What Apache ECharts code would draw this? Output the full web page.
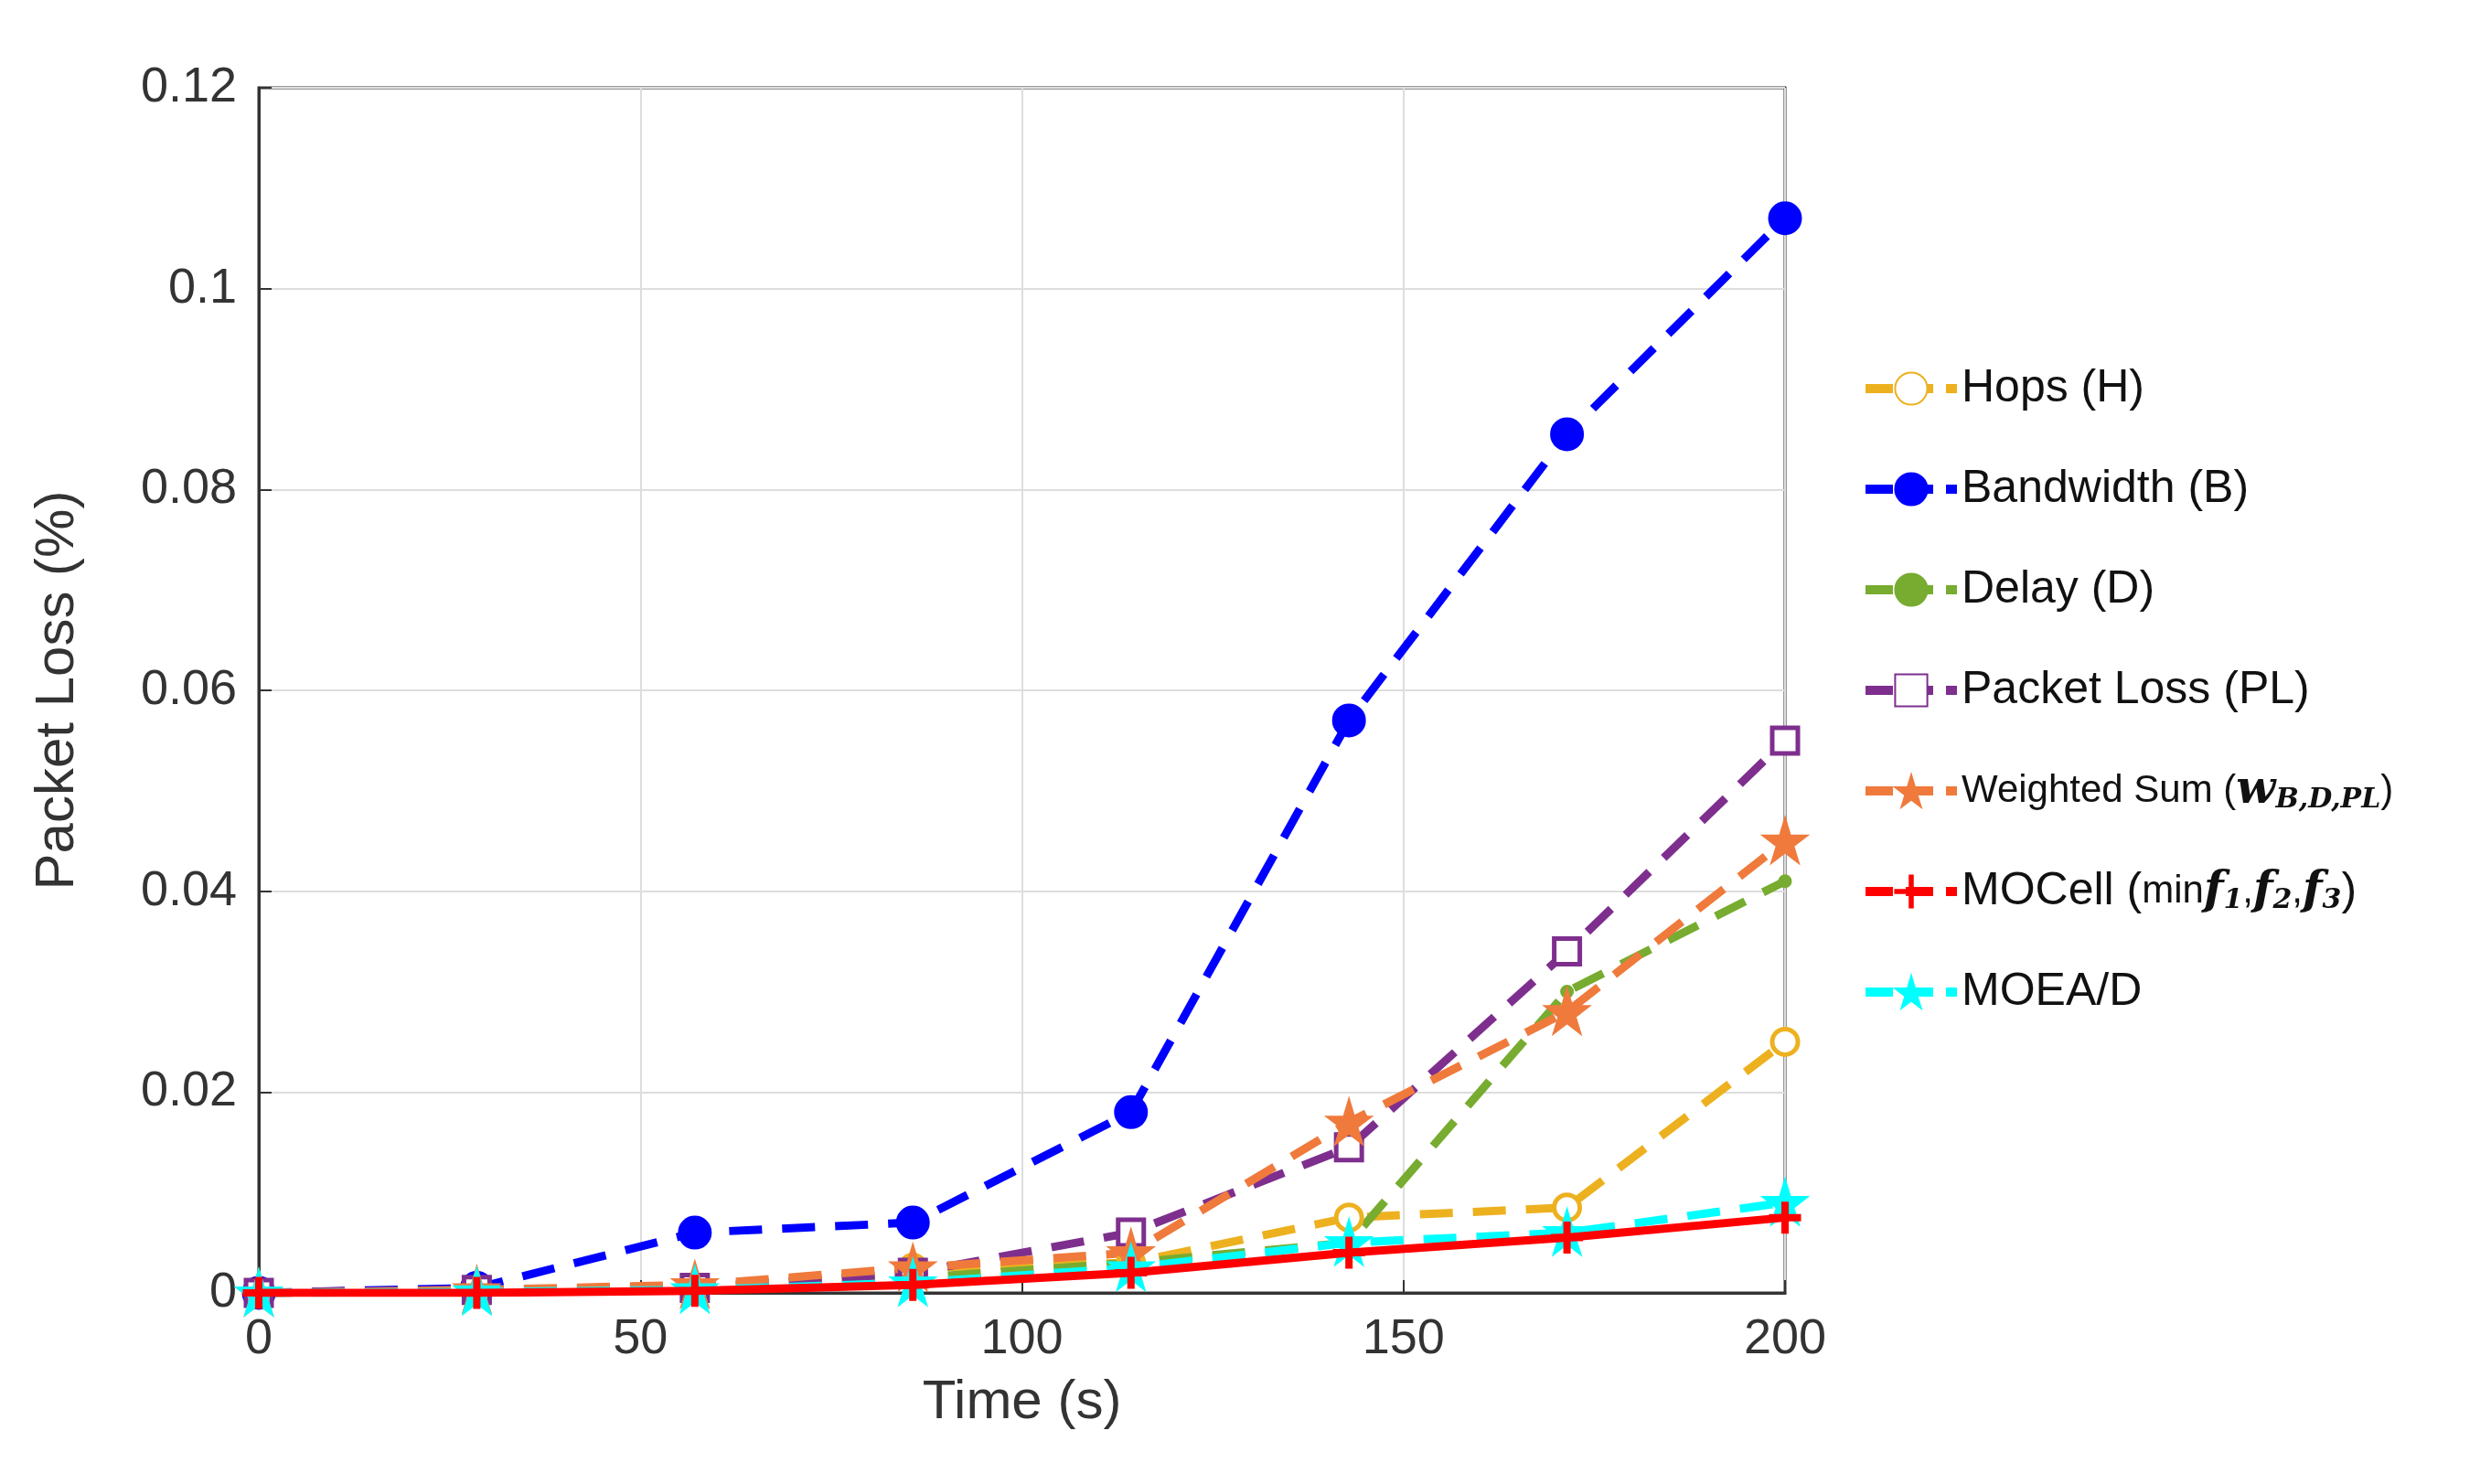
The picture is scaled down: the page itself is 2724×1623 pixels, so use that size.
<!DOCTYPE html>
<html><head><meta charset="utf-8">
<script src="https://cdn.jsdelivr.net/npm/echarts@6/dist/echarts.min.js"></script>
<style>html,body{margin:0;padding:0;background:#fff}#c{width:2724px;height:1623px}</style>
</head><body><div id="c"></div>
<script>
const times = [0, 28.57, 57.14, 85.71, 114.29, 142.86, 171.43, 200];
const hops = [0, 0.0002, 0.0005, 0.0025, 0.003, 0.0075, 0.0085, 0.025];
const bandwidth = [0, 0.0005, 0.006, 0.007, 0.018, 0.057, 0.0855, 0.107];
const delay = [0, 0.0002, 0.0005, 0.0015, 0.003, 0.005, 0.030, 0.041];
const packetLoss = [0, 0.0003, 0.0005, 0.002, 0.006, 0.0145, 0.034, 0.055];
const weightedSum = [0, 0.0003, 0.0008, 0.0025, 0.004, 0.017, 0.028, 0.045];
const mocell = [0, 0, 0.0002, 0.0008, 0.002, 0.004, 0.0055, 0.0075];
const moead = [0, 0.0001, 0.0003, 0.001, 0.0025, 0.005, 0.006, 0.009];
const yTicks = [0, 0.02, 0.04, 0.06, 0.08, 0.1, 0.12];

const star = 'path://M50,0 L61,35 L98,35 L68,57 L79,91 L50,70 L21,91 L32,57 L2,35 L39,35 Z';
const plus = 'path://M45,0 L55,0 L55,45 L100,45 L100,55 L55,55 L55,100 L45,100 L45,55 L0,55 L0,45 L45,45 Z';
const pair = a => times.map((t, i) => [t, a[i]]);
function s(name, data, color, symbol, size, solid, fill) {
  return {name, type: 'line', data: pair(data), symbol, symbolSize: size, showSymbol: true,
    lineStyle: {color, width: 9, type: solid ? 'solid' : [36, 22]},
    itemStyle: {color: fill ? color : '#fff', borderColor: color, borderWidth: 5}, z: solid ? 3 : 2};
}
const chart = echarts.init(document.getElementById('c'));
chart.setOption({
  backgroundColor: '#fff',
  animation: false,
  grid: {left: 283, top: 96, width: 1669, height: 1318, show: true, borderColor: '#333', borderWidth: 3},
  xAxis: {type: 'value', min: 0, max: 200, interval: 50, name: 'Time (s)', nameLocation: 'middle', nameGap: 90,
    nameTextStyle: {fontSize: 60, color: '#333', fontFamily: 'Arial, Liberation Sans'},
    axisLine: {lineStyle: {color: '#333', width: 3}}, axisTick: {inside: true, length: 14, lineStyle: {color: '#333', width: 2}},
    axisLabel: {fontSize: 54, color: '#333', margin: 24, fontFamily: 'Arial, Liberation Sans'},
    splitLine: {lineStyle: {color: '#ddd', width: 2}}},
  yAxis: {type: 'value', min: 0, max: 0.12, interval: 0.02, name: 'Packet Loss (%)', nameLocation: 'middle', nameGap: 190,
    nameTextStyle: {fontSize: 60, color: '#333', fontFamily: 'Arial, Liberation Sans'},
    axisLine: {lineStyle: {color: '#333', width: 3}}, axisTick: {inside: true, length: 14, lineStyle: {color: '#333', width: 2}},
    axisLabel: {fontSize: 54, color: '#333', margin: 24, fontFamily: 'Arial, Liberation Sans',
      formatter: v => { const k = yTicks.find(t => Math.abs(t - v) < 1e-9); return k === 0 ? '0' : String(+v.toFixed(2)); }},
    splitLine: {lineStyle: {color: '#ddd', width: 2}}},
  legend: {orient: 'vertical', left: 2030, top: 395, itemWidth: 100, itemHeight: 44, itemGap: 60,
    lineStyle: {width: 10, type: [30, 14]},
    textStyle: {fontSize: 50, color: '#111', fontFamily: 'Arial, Liberation Sans',
      rich: {n: {fontSize: 50, color: '#111'}, sm: {fontSize: 42, color: '#111'},
        it: {fontSize: 50, fontStyle: 'italic', fontWeight: 'bold', fontFamily: 'DejaVu Serif', color: '#111'},
        sub: {fontSize: 30, fontStyle: 'italic', fontWeight: 'bold', fontFamily: 'DejaVu Serif', color: '#111', verticalAlign: 'bottom', padding: [16, 0, 0, 0]}}},
    formatter: n => {
      if (n === 'Weighted Sum') return '{sm|Weighted Sum (}{it|w}{sub|B,D,PL}{sm|)}';
      if (n === 'MOCell') return '{n|MOCell (}{sm|min}{it|f}{sub|1}{sm|,}{it|f}{sub|2}{sm|,}{it|f}{sub|3}{n|)}';
      return n;
    }},
  series: [
    s('Hops (H)', hops, '#EDB120', 'circle', 28, false, false),
    s('Bandwidth (B)', bandwidth, '#0000FF', 'circle', 32, false, true),
    s('Delay (D)', delay, '#77AC30', 'circle', 10, false, true),
    s('Packet Loss (PL)', packetLoss, '#7E2F8E', 'rect', 28, false, false),
    s('Weighted Sum', weightedSum, '#EF7A3C', star, 40, false, true),
    s('MOCell', mocell, '#FF0000', plus, 30, true, true),
    s('MOEA/D', moead, '#00FFFF', star, 40, false, true)
  ]
});
</script></body></html>
